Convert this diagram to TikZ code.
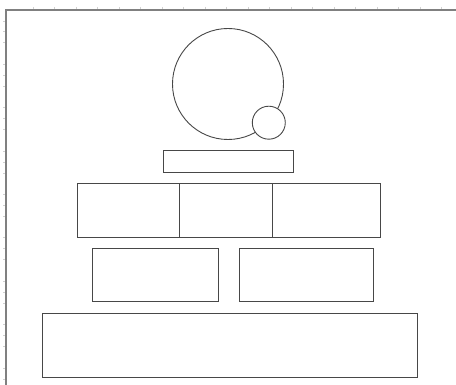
\documentclass[tikz,border=0pt]{standalone}
\begin{document}
\begin{tikzpicture}[x=1pt,y=-1pt,
  shp/.style={draw=black!72,line width=0.9pt,fill=white},
  frm/.style={draw=black!50,line width=1.1pt},
  tick/.style={draw=black!18,line width=0.5pt}]
\useasboundingbox (0,0) rectangle (456,385);
% frame with faint ruler ticks
\foreach \t in {33,54,76,97,119,140,162,183,205,226,248,269,291,312,334,355,377,398,420,441}
  \draw[tick] (\t,7) -- (\t,10);
\foreach \t in {21,31,42,64,75,86,107,118,129,151,162,173,194,205,216,237,248,259,281,292,303,324,335,346,368,379}
  \draw[tick] (3,\t) -- (6,\t);
\coordinate (fa) at (6,385);
\coordinate (fb) at (6,10);
\coordinate (fc) at (456,10);
\draw[frm] (fa) -- (fb) -- (fc);
% circles
\node[shp,circle,minimum size=111pt,inner sep=0pt] (big) at (228,84) {};
\node[shp,circle,minimum size=33pt,inner sep=0pt] (small) at (268.8,122.7) {};
% thin bar
\node[shp,rectangle,minimum width=130pt,minimum height=22pt,inner sep=0pt] (bar) at (228.7,161.7) {};
% row of three
\node[shp,rectangle,minimum width=109pt,minimum height=54pt,inner sep=0pt] (m2) at (233.5,210) {};
\node[shp,rectangle,minimum width=102pt,minimum height=54pt,inner sep=0pt] (m1) at (128,210) {};
\node[shp,rectangle,minimum width=108pt,minimum height=54pt,inner sep=0pt] (m3) at (326,210) {};
% second row
\node[shp,rectangle,minimum width=125.6pt,minimum height=53.3pt,inner sep=0pt] (l1) at (155.5,275.3) {};
\node[shp,rectangle,minimum width=134pt,minimum height=53.3pt,inner sep=0pt] (l2) at (306.7,275.3) {};
% bottom
\node[shp,rectangle,minimum width=374.3pt,minimum height=64.7pt,inner sep=0pt] (base) at (229.8,345.6) {};
\end{tikzpicture}
\end{document}
